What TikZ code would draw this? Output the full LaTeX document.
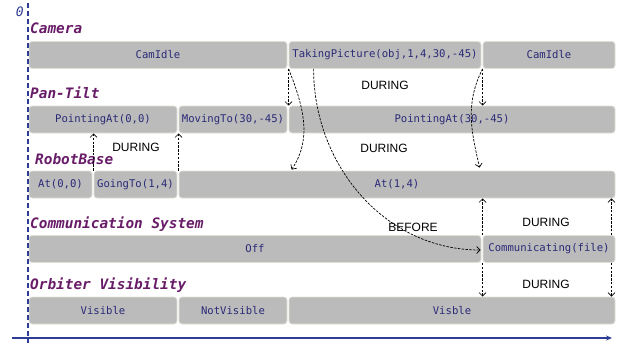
\documentclass[tikz,border=0pt]{standalone}
\usepackage{fontspec}
\setmonofont{DejaVu Sans Mono}
\setsansfont{Liberation Sans}
\usetikzlibrary{arrows.meta,calc}
\definecolor{stategray}{RGB}{187,187,187}
\definecolor{stateedge}{RGB}{224,224,216}
\definecolor{statetext}{RGB}{42,42,120}
\definecolor{headpurple}{RGB}{104,28,104}
\definecolor{axisblue}{RGB}{45,60,150}

\newcommand{\statenode}[5]{%
  \pgfmathsetmacro\midx{(#2+#3)/2}%
  \pgfmathsetmacro\wid{#3-#2}%
  \node [state,minimum width=\wid pt] (#1) at (\midx,#4) {#5};%
}

\begin{document}
\begin{tikzpicture}[
x=1pt,y=-1pt,
font=\sffamily,
state/.style={rectangle,rounded corners=3pt,draw=stateedge,fill=stategray,line width=0.8pt,minimum height=27pt,inner sep=0pt,text=statetext,font=\ttfamily\fontsize{10.6}{12}\selectfont},
track/.style={anchor=base west,inner sep=0pt,text=headpurple,font=\ttfamily\bfseries\itshape\fontsize{14.4}{16}\selectfont},
relation/.style={inner sep=0pt,font=\sffamily\fontsize{12}{14}\selectfont},
link/.style={draw=black,line width=0.7pt,dash pattern=on 2.5pt off 1.3pt,-{Straight Barb[length=3.5pt,width=7pt]}}
]
\useasboundingbox (0,0) rectangle (627,343);

% Track names
\node [anchor=base east,inner sep=0pt,text=axisblue,font=\ttfamily\itshape\fontsize{13}{14}\selectfont] (zero) at (24,16) {0};
\node [track] (camlbl) at (30,33) {Camera};
\node [track] (ptlbl) at (30,98) {Pan-Tilt};
\node [track] (rblbl) at (35,164.5) {RobotBase};
\node [track] (cslbl) at (30,228) {Communication System};
\node [track] (ovlbl) at (30,289) {Orbiter Visibility};

% Draw states
\statenode{camA}{29}{287}{55}{CamIdle}
\statenode{camB}{289}{481}{55}{TakingPicture(obj,1,4,30,-45)}
\statenode{camC}{483}{615}{55}{CamIdle}

\statenode{ptA}{29}{177}{119.5}{PointingAt(0,0)}
\statenode{ptB}{179}{287}{119.5}{MovingTo(30,-45)}
\statenode{ptC}{289}{615}{119.5}{PointingAt(30,-45)}

\statenode{rbA}{29}{92}{184.5}{At(0,0)}
\statenode{rbB}{94}{177}{184.5}{GoingTo(1,4)}
\statenode{rbC}{179}{615}{184.5}{At(1,4)}

\statenode{csA}{29}{481}{249}{Off}
\statenode{csB}{483}{615}{249}{Communicating(file)}

\statenode{ovA}{29}{177}{310.5}{Visible}
\statenode{ovB}{179}{287}{310.5}{NotVisible}
\statenode{ovC}{289}{615}{310.5}{Visble}

% Time axis
\coordinate (t0) at (28,3);
\coordinate (t1) at (28,343);
\draw [axisblue,line width=1.6pt,dash pattern=on 5pt off 3pt] (t0) -- (t1);
\coordinate (h0) at (12,338);
\coordinate (h1) at (612,338);
\draw [axisblue,line width=1.2pt,-{Stealth[length=6pt,width=5pt]}] (h0) -- (h1);

% Camera -> Pan-Tilt
\draw [link] (camB.south west) -- (ptC.north west);
\draw [link] (camC.south west) -- (camC.south west |- ptC.north);

% Camera -> RobotBase
\coordinate (rbHitA) at ($(ptC.south west |- rbC.north)+(3,-1)$);
\coordinate (rbHitB) at ($(camC.south west |- rbC.north)+(-3,-3)$);
\draw [link] (camB.south west) .. controls +(16,40) and +(20,-30) .. (rbHitA);
\draw [link] (camC.south west) .. controls +(-18,35) and +(-8,-35) .. (rbHitB);

% Camera -> Communication
\coordinate (tpMid) at ($(camB.south west)+(25,0)$);
\coordinate (csHit) at ($(csB.west)+(-2,1)$);
\draw [link] (tpMid) .. controls +(0,96) and +(-96,0) .. (csHit);

% RobotBase -> Pan-Tilt
\draw [link] (rbB.north west) -- (rbB.north west |- ptA.south);
\draw [link] (rbC.north west) -- (rbC.north west |- ptB.south);

% Communication -> RobotBase, Orbiter
\coordinate (csTopR) at ($(csB.north east)+(-4,0)$);
\coordinate (csBotR) at ($(csB.south east)+(-4,0)$);
\draw [link] (csB.north west) -- (csB.north west |- rbC.south);
\draw [link] (csTopR) -- (csTopR |- rbC.south);
\draw [link] (csB.south west) -- (csB.south west |- ovC.north);
\draw [link] (csBotR) -- (csBotR |- ovC.north);

% Relations
\node [relation] (durA) at (385,85.5) {DURING};
\node [relation] (durB) at (136,147) {DURING};
\node [relation] (durC) at (384,148) {DURING};
\node [relation] (before) at (413,227) {BEFORE};
\node [relation] (durD) at (546,222) {DURING};
\node [relation] (durE) at (546,284) {DURING};

\end{tikzpicture}
\end{document}
